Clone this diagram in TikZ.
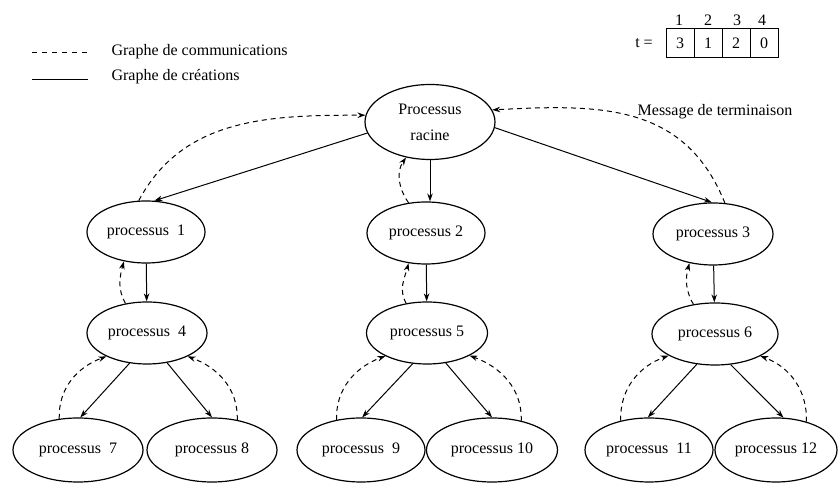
\documentclass[tikz,border=0pt]{standalone}
\usepackage{fontspec}
\setmainfont{Liberation Serif}
\usetikzlibrary{shapes.geometric,arrows.meta}
\begin{document}
\begin{tikzpicture}[x=1pt,y=1pt,
  font=\fontsize{16}{19}\selectfont,
  proc/.style={draw,ellipse,line width=1.2pt,inner sep=0pt,minimum width=120pt,minimum height=62pt},
  creation/.style={line width=1pt,-{Stealth[length=8pt,width=5.5pt]}},
  comm/.style={line width=1pt,dash pattern=on 5pt off 4pt,-{Stealth[length=8pt,width=5.5pt]}},
  cell/.style={draw,line width=1pt,minimum width=28pt,minimum height=29pt,inner sep=0pt},
  idx/.style={inner sep=0pt}]
\useasboundingbox (0,0) rectangle (838,486);

% legend
\coordinate (ld1) at (32,433);
\coordinate (ld2) at (88,433);
\coordinate (ls1) at (32,406);
\coordinate (ls2) at (88,406);
\draw[line width=1pt,dash pattern=on 5pt off 5pt] (ld1) -- (ld2);
\draw[line width=1pt] (ls1) -- (ls2);
\node[anchor=west] (lcomm) at (108,434) {Graphe de communications};
\node[anchor=west] (lcrea) at (108,409) {Graphe de créations};

% array t
\node (teq) at (644,443) {t =};
\node[cell] (c1) at (680,443) {3};
\node[cell] (c2) at (708,443) {1};
\node[cell] (c3) at (736,443) {2};
\node[cell] (c4) at (764,443) {0};
\node[idx] (i1) at (679,466) {1};
\node[idx] (i2) at (708,466) {2};
\node[idx] (i3) at (737,466) {3};
\node[idx] (i4) at (762,466) {4};

\node (msg) at (715,374) {Message de terminaison};

% process tree
\node[proc,minimum width=130pt,minimum height=75pt,align=center] (root) at (430,364)
  {Processus\\[7pt]racine};
\node[proc,minimum width=118pt] (p1) at (146,254) {processus \ 1};
\node[proc,minimum width=118pt] (p2) at (426,253) {processus 2};
\node[proc,minimum width=120pt] (p3) at (713,252) {processus 3};
\node[proc] (p4) at (147,153) {processus \ 4};
\node[proc,minimum width=121pt] (p5) at (427,153) {processus 5};
\node[proc,minimum width=126pt] (p6) at (715,152) {processus 6};
\node[proc,minimum width=130pt,minimum height=64pt] (p7) at (78,36) {processus \ 7};
\node[proc,minimum width=130pt,minimum height=64pt] (p8) at (212,36) {processus 8};
\node[proc,minimum width=128pt,minimum height=64pt] (p9) at (361,36) {processus \ 9};
\node[proc,minimum width=131pt,minimum height=64pt] (p10) at (492,36) {processus 10};
\node[proc,minimum width=128pt,minimum height=64pt] (p11) at (649,36) {processus \ 11};
\node[proc,minimum width=122pt,minimum height=64pt] (p12) at (776,36) {processus 12};

% creation graph
\draw[creation] (root.190) -- (p1.75);
\draw[creation] (root.south) -- (root.south |- p2.north);
\draw[creation] (root.-5) -- (p3.92);
\draw[creation] (p1) -- (p4);
\draw[creation] (p2) -- (p5);
\draw[creation] (p3) -- (p6);
\draw[creation] (p4.240) -- (p7.86);
\draw[creation] (p4.-56) -- (p8.90);
\draw[creation] (p5.245) -- (p9.88);
\draw[creation] (p5.-58) -- (p10.90);
\draw[creation] (p6.239) -- (p11.92);
\draw[creation] (p6.-63) -- (p12.77);

% communication graph
\draw[comm] (p1.103) to[out=62,in=180] (root.174);
\draw[comm] (p2.120) to[out=125,in=235] (root.236);
\draw[comm] (p3.69) to[out=112,in=3,looseness=1.1] (root.11);
\draw[comm] (p4.126) to[out=120,in=255] (p1.233);
\draw[comm] (p5.125) to[out=120,in=255] (p2.240);
\draw[comm] (p6.126) to[out=120,in=255] (p3.231);
\draw[comm] (p7.121) to[out=92,in=200] (p4.210);
\draw[comm] (p8.50) to[out=88,in=-20] (p4.-30);
\draw[comm] (p9.129) to[out=92,in=200] (p5.209);
\draw[comm] (p10.45) to[out=88,in=-20] (p5.-28);
\draw[comm] (p11.134) to[out=92,in=200] (p6.205);
\draw[comm] (p12.43) to[out=88,in=-20] (p6.-26);
\end{tikzpicture}
\end{document}
